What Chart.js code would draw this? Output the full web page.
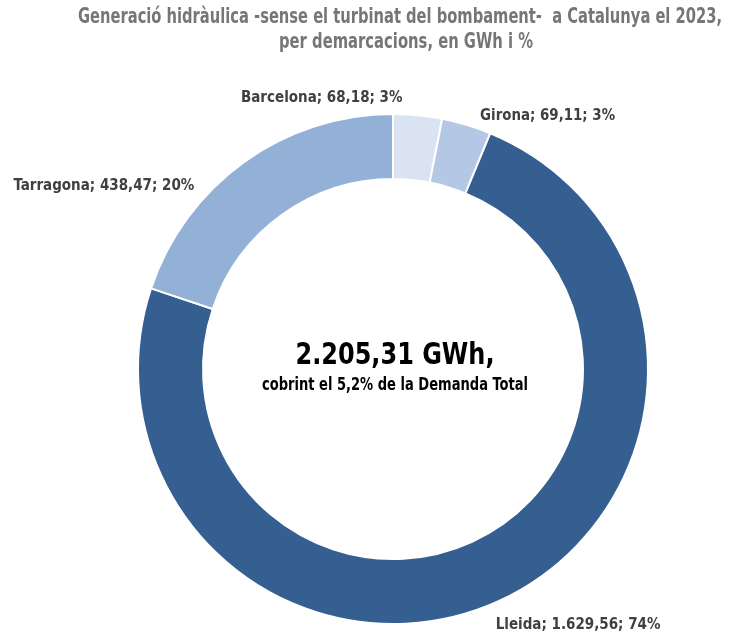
<!DOCTYPE html>
<html>
<head>
<meta charset="utf-8">
<script src="https://cdn.jsdelivr.net/npm/chart.js@4.4.1/dist/chart.umd.min.js"></script>
<style>
  html, body { margin: 0; padding: 0; background: #ffffff; }
  #wrap { width: 734px; height: 634px; position: relative; }
</style>
</head>
<body>
<div id="wrap"><canvas id="c" width="734" height="634"></canvas></div>
<script>
// ---- Data ----
const categories = ["Barcelona", "Girona", "Lleida", "Tarragona"];
const valuesGWh = [68.18, 69.11, 1629.56, 438.47];
const valueLabels = ["68,18", "69,11", "1.629,56", "438,47"];
const percentLabels = ["3%", "3%", "74%", "20%"];
const titleLines = [
  "Generació hidràulica -sense el turbinat del bombament-  a Catalunya el 2023,",
  "per demarcacions, en GWh i %"
];
const centerLines = ["2.205,31 GWh,", "cobrint el 5,2% de la Demanda Total"];

// ---- Styles ----
const colors = ["#dae3f1", "#b4c7e5", "#365f91", "#93b1d7"];
const labelOffsets = [[-96, -17], [81, -9], [79, 24], [-140, 24]];
const labelWidths = [162, 135, 165, 183];

// draw text centred at (cx, cy), compressed horizontally to the given width
function fitText(ctx, text, cx, cy, width) {
  const w = ctx.measureText(text).width;
  const s = Math.min(1, width / w);
  ctx.save();
  ctx.translate(cx, cy);
  ctx.scale(s, 1);
  ctx.textAlign = 'center';
  ctx.textBaseline = 'middle';
  ctx.fillText(text, 0, 0);
  ctx.restore();
}

const titlePlugin = {
  id: 'titleText',
  afterDraw(chart) {
    const ctx = chart.ctx;
    ctx.save();
    ctx.fillStyle = '#767676';
    ctx.font = 'bold 21px "DejaVu Sans Condensed", sans-serif';
    fitText(ctx, titleLines[0], 400, 18, 644);
    fitText(ctx, titleLines[1], 406, 43, 254);
    ctx.restore();
  }
};

const labelPlugin = {
  id: 'sliceLabels',
  afterDatasetsDraw(chart) {
    const ctx = chart.ctx;
    const meta = chart.getDatasetMeta(0);
    ctx.save();
    ctx.fillStyle = '#404040';
    ctx.font = 'bold 15px "DejaVu Sans Condensed", sans-serif';
    meta.data.forEach((arc, i) => {
      const mid = (arc.startAngle + arc.endAngle) / 2;
      const ax = arc.x + arc.outerRadius * Math.cos(mid);
      const ay = arc.y + arc.outerRadius * Math.sin(mid);
      const txt = categories[i] + "; " + valueLabels[i] + "; " + percentLabels[i];
      fitText(ctx, txt, ax + labelOffsets[i][0], ay + labelOffsets[i][1], labelWidths[i]);
    });
    // center text
    const a0 = meta.data[0];
    ctx.fillStyle = '#000000';
    ctx.font = 'bold 30px "DejaVu Sans Condensed", sans-serif';
    fitText(ctx, centerLines[0], a0.x + 2, a0.y - 13, 199);
    ctx.font = 'bold 17px "DejaVu Sans Condensed", sans-serif';
    fitText(ctx, centerLines[1], a0.x + 2, a0.y + 17, 266);
    ctx.restore();
  }
};

new Chart(document.getElementById('c'), {
  type: 'doughnut',
  data: {
    labels: categories,
    datasets: [{
      data: valuesGWh,
      backgroundColor: colors,
      borderColor: '#ffffff',
      borderWidth: 2,
      hoverOffset: 0,
      offset: 0
    }]
  },
  options: {
    responsive: false,
    animation: false,
    cutout: '74.5%',
    layout: { padding: { top: 113, bottom: 9, left: 137, right: 85 } },
    plugins: {
      legend: { display: false },
      title: { display: false },
      tooltip: { enabled: false }
    },
    events: []
  },
  plugins: [titlePlugin, labelPlugin]
});
</script>
</body>
</html>
